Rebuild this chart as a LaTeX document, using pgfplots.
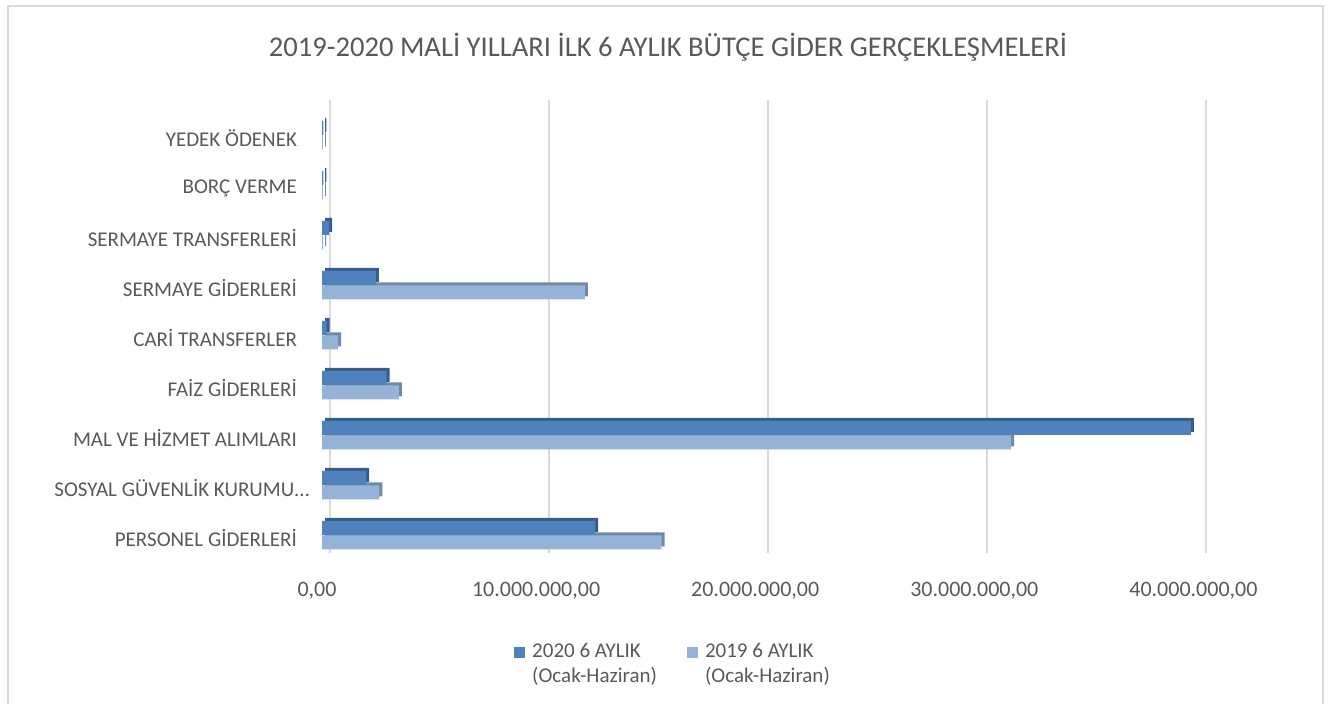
\documentclass[border=0pt]{standalone}
\usepackage{fontspec}
\setmainfont{Carlito}
\usepackage{pgfplots}
\usepackage{pgfplotstable}
\pgfplotsset{compat=1.18}

\definecolor{c20}{HTML}{4F81BD}
\definecolor{c20d}{HTML}{385D8A}
\definecolor{c19}{HTML}{95B3D7}
\definecolor{c19d}{HTML}{7089AA}
\definecolor{txt}{HTML}{595959}
\definecolor{gridc}{HTML}{D9D9D9}

% 0 = PERSONEL ... 8 = YEDEK ODENEK (bottom to top)
\pgfplotstableread{
idx v2020 v2019
0 12460000 15500000
1 2010000 2620000
2 39660000 31450000
3 2950000 3510000
4 210000 740000
5 2460000 12000000
6 320000 50000
7 60000 40000
8 60000 40000
}\giderler

\begin{document}
\begin{tikzpicture}
\useasboundingbox (0pt,0pt) rectangle (668pt,352pt);
\draw[gridc, line width=1pt] (4pt,-5pt) -- (4pt,349pt) -- (661.5pt,349pt) -- (661.5pt,-5pt);
\node[text=txt, font=\fontsize{14.3}{16}\selectfont] at (334pt,328.5pt)
  {2019-2020 MALİ YILLARI İLK 6 AYLIK BÜTÇE GİDER GERÇEKLEŞMELERİ};
\begin{axis}[
  at={(161pt,75.5pt)}, anchor=south west,
  scale only axis, width=438.2pt, height=226.5pt,
  xbar, bar width=7pt,
  xmin=0, xmax=40000000,
  ymin=-0.36, ymax=8.7,
  axis line style={draw=none},
  major tick length=0pt,
  scaled x ticks=false,
  xtick={0,10000000,20000000,30000000,40000000},
  xticklabels={{0,00},{10.000.000,00},{20.000.000,00},{30.000.000,00},{40.000.000,00}},
  xmajorgrids, grid style={gridc, line width=1pt, xshift=3.75pt},
  ytick={0,1,2,3,4,5,6,7,8},
  yticklabels={PERSONEL GİDERLERİ, {SOSYAL GÜVENLİK KURUMU.{}.{}.\hspace*{-6.5pt}}, MAL VE HİZMET ALIMLARI,
    FAİZ GİDERLERİ, CARİ TRANSFERLER, SERMAYE GİDERLERİ, SERMAYE TRANSFERLERİ,
    BORÇ VERME, YEDEK ÖDENEK},
  yticklabel style={font=\fontsize{10.5}{12}\selectfont, text=txt, xshift=-9pt, yshift=-1.5pt},
  xticklabel style={font=\fontsize{11}{13}\selectfont, text=txt, yshift=-11pt, xshift=-2.5pt},
  legend style={at={(0.4017,-0.183)}, anchor=north, draw=none, inner sep=0pt,
    legend columns=2, font=\fontsize{10.5}{12.5}\selectfont, text=txt,
    /tikz/every even column/.append style={column sep=13pt}},
  legend cell align=left,
  legend style={cells={anchor=base west}},
  reverse legend,
  legend image code/.code={\fill[#1] (0pt,0pt) rectangle (5.5pt,5.5pt); \path (7pt,0pt);},
]
% floor edges under the grid lines
\pgfplotsinvokeforeach{0,10000000,20000000,30000000,40000000}{
  \draw[gridc, line width=1pt] ([xshift=3.75pt]axis cs:#1,-0.36) -- ([xshift=-2.5pt,yshift=-5.5pt]axis cs:#1,-0.36);
}
\addplot[forget plot, fill=c19d, draw=none, bar shift=-3.75pt, xshift=1.5pt, yshift=1.5pt]
  table[x=v2019, y=idx] {\giderler};
\addplot[fill=c19, draw=none, bar shift=-3.75pt] table[x=v2019, y=idx] {\giderler};
\addlegendentry{\begin{tabular}[t]{@{}l@{}}2019 6 AYLIK\\(Ocak-Haziran)\end{tabular}}
\addplot[forget plot, fill=c20d, draw=none, bar shift=3.5pt, xshift=1.5pt, yshift=1.5pt]
  table[x=v2020, y=idx] {\giderler};
\addplot[fill=c20, draw=none, bar shift=3.5pt] table[x=v2020, y=idx] {\giderler};
\addlegendentry{\begin{tabular}[t]{@{}l@{}}2020 6 AYLIK\\(Ocak-Haziran)\end{tabular}}
\end{axis}
\end{tikzpicture}
\end{document}
